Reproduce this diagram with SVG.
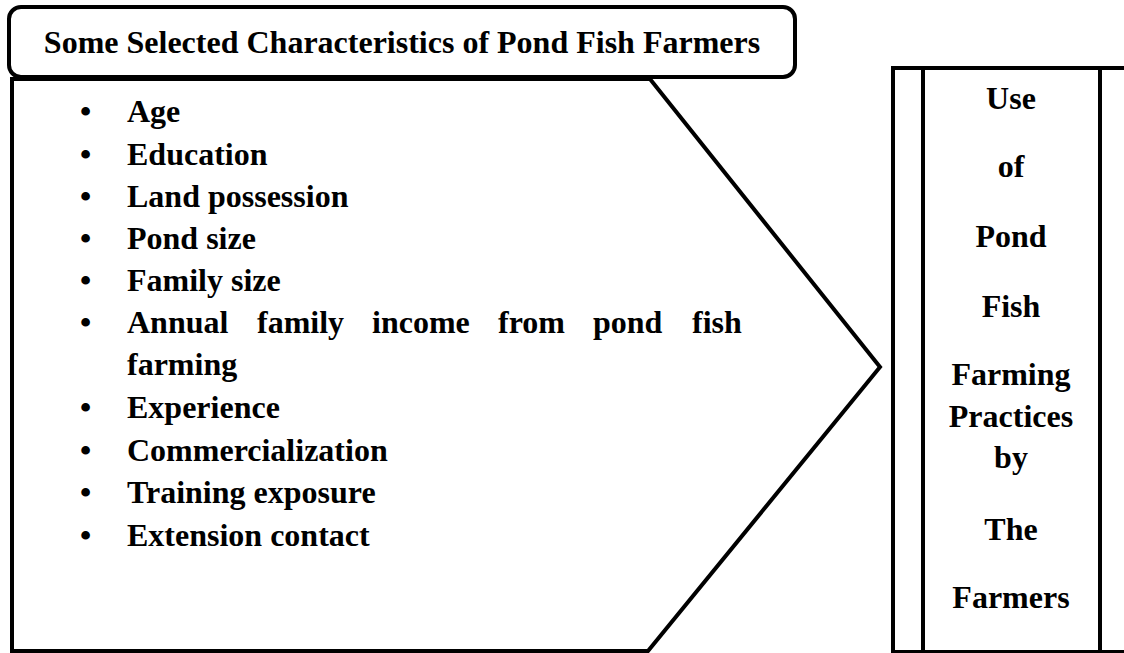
<svg xmlns="http://www.w3.org/2000/svg" width="1124" height="653" viewBox="0 0 1124 653">
<style>
.ln{fill:#fff;stroke:#000;stroke-width:4;stroke-linejoin:miter}
.t{font-family:"Liberation Serif","Times New Roman",serif;font-weight:bold;font-size:32px;fill:#000}
.c{text-anchor:middle}
</style>
<rect width="1124" height="653" fill="#fff"/>
<g id="characteristics">
<path class="ln" d="M12,79 L650,79 L880,367 L648,651 L12,651 Z"/>
<g class="t">
<text x="80" y="122">•</text><text x="127" y="122">Age</text>
<text x="80" y="165">•</text><text x="127" y="165">Education</text>
<text x="80" y="207">•</text><text x="127" y="207">Land possession</text>
<text x="80" y="249">•</text><text x="127" y="249">Pond size</text>
<text x="80" y="291">•</text><text x="127" y="291">Family size</text>
<text x="80" y="333">•</text><text x="127" y="333">Annual</text><text x="257" y="333">family</text><text x="372" y="333">income</text><text x="498" y="333">from</text><text x="593" y="333">pond</text><text x="692" y="333">fish</text>
<text x="127" y="375">farming</text>
<text x="80" y="418">•</text><text x="127" y="418">Experience</text>
<text x="80" y="461">•</text><text x="127" y="461">Commercialization</text>
<text x="80" y="503">•</text><text x="127" y="503">Training exposure</text>
<text x="80" y="546">•</text><text x="127" y="546">Extension contact</text>
</g>
</g>
<g id="title">
<rect class="ln" x="9" y="7" width="786" height="70" rx="12" ry="12"/>
<text class="t c" x="402" y="53">Some Selected Characteristics of Pond Fish Farmers</text>
</g>
<g id="use-practices">
<rect class="ln" x="893" y="68" width="250" height="584"/>
<line class="ln" x1="923" y1="68" x2="923" y2="652"/>
<line class="ln" x1="1100" y1="68" x2="1100" y2="652"/>
<g class="t c">
<text x="1011" y="109">Use</text>
<text x="1011" y="177">of</text>
<text x="1011" y="247">Pond</text>
<text x="1011" y="317">Fish</text>
<text x="1011" y="385">Farming</text>
<text x="1011" y="427">Practices</text>
<text x="1011" y="468">by</text>
<text x="1011" y="540">The</text>
<text x="1011" y="608">Farmers</text>
</g>
</g>
<g id="connectors"></g>
</svg>
